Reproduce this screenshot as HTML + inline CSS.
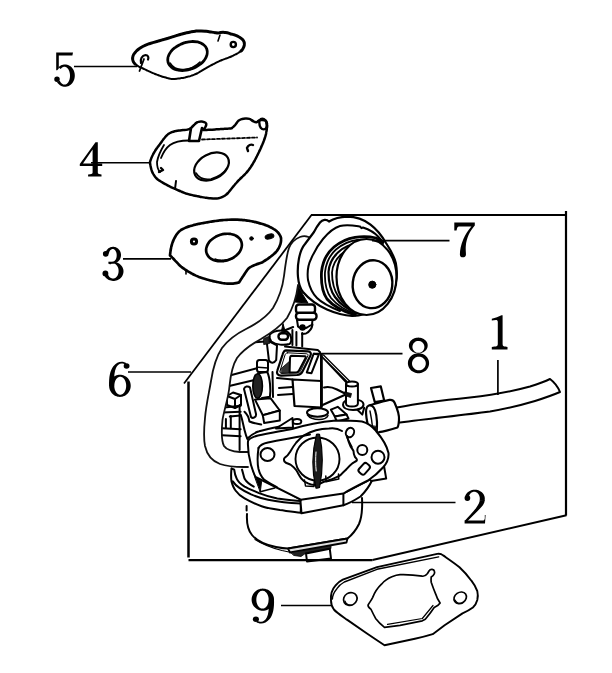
<!DOCTYPE html>
<html><head><meta charset="utf-8"><style>
html,body{margin:0;padding:0;background:#fff;width:612px;height:673px;overflow:hidden}
svg{display:block}
svg{font-family:"Liberation Serif",serif}
</style></head><body>
<svg width="612" height="673" viewBox="0 0 612 673">
<!-- gasket 5 -->
<g id="g5" fill="none" stroke="#000" stroke-linecap="round" stroke-linejoin="round">
<path stroke-width="3" stroke-dasharray="4 0.9" d="M135 64C132 61 132 57 134 54C137 49.5 142 46 150 43.5C158 41 166 39 172 37C180 34.5 188 32 197 31C205 30.5 212 32.5 218 33C222 32 226 32 231 34C236 35 240 37 243 40C245.5 43 244.5 48 241 51"/>
<path stroke-width="2" stroke-dasharray="2.5 1" d="M241 51C236 55 228 58 222 60C214 63.5 206 68 198 73C190 77 180 79 171 79C162 77 152 73 144 69C141 67.5 139 67 135 64"/>
<ellipse cx="187.5" cy="56" rx="20.5" ry="13.5" transform="rotate(-20 187.5 56)" stroke-width="2.8" stroke-dasharray="5 1"/>
<path stroke-width="1.6" d="M170 63C173 68 178 70 184 69.5C190 69 196 66 200 62"/>
<path stroke-width="2.2" d="M141 63C140 59 142 55.5 145.5 55C148 55 149 57.5 148 59.5"/>
<path stroke-width="1.8" d="M144 59L139.5 71"/>
<circle cx="233.3" cy="44.5" r="2.6" stroke-width="2.4"/>
<path stroke-width="1.6" d="M220 35L218 41"/>
</g>
<!-- gasket 4 -->
<g id="g4" fill="none" stroke="#000" stroke-linecap="round" stroke-linejoin="round">
<path stroke-width="2.5" stroke-dasharray="3 1.2" d="M150 162C152 155 156 149 160 144C163 140 166 135 170 133C174 131 179 130.5 184 130C188 130 190 129 192 127L196 123C199 121 203 121 206 123C207 125 205 128 203 130C210 130 220 129 231 128.5C234 127 236 124 238 121C241 118.5 246 118 250 119C253 121 255 123 257 122C259 120 263 119 266 121C268 124 267 128 266 134C264 142 260 150 256 158C252 166 247 173 241 178C236 183 232 188 228 193C224 197 219 199 213 198.5C205 198 195 196 186 193.5C177 190 168 186 160 181C155 178 152 173 151 168C150.5 166 150 164 150 162Z"/>
<path stroke-width="1.8" stroke-dasharray="3 2" d="M202 139.5L257 137.5"/>
<path stroke-width="1.8" d="M189 140.5C181 140.5 174 142 170 145C166 148 163 153 161 158"/>
<path stroke-width="1.8" d="M164 145C161 150 158 156 157 162C157 166 158 170 160 172"/>
<path stroke-width="2.6" d="M191 128L189 141L199 141L202 128"/>
<path stroke-width="2.4" d="M263 124m-3.5 0a3.5 4.5 -20 1 0 7 0a3.5 4.5 -20 1 0 -7 0"/>
<ellipse cx="211.5" cy="166.5" rx="18.5" ry="12.5" transform="rotate(-28 211.5 166.5)" stroke-width="2.2"/>
<path stroke-width="1.6" d="M196 173C199 178 205 180 211 179C218 177 224 173 227 168"/>
<path stroke-width="2.4" d="M247 148C248 145 251 144 253 145M247 148L248 151"/>
<path stroke-width="2" d="M176 181L175 189"/>
<path stroke-width="2.4" d="M159 172L163 170L161 168"/>
</g>
<!-- gasket 3 -->
<g id="g3" fill="none" stroke="#000" stroke-linecap="round" stroke-linejoin="round">
<path stroke-width="2.7" stroke-dasharray="3.2 1.1" d="M170 255.5C170.5 250 171.5 244 174 239C176 235 178 232 181 230C185 227.5 190 226 196 224.5C205 222.5 214 221 224 220C233 219.3 242 219.5 250 221C258 222.5 265 224.5 271 227.5C276 230 279.5 233 281 238C281.5 243 279.5 248 276 252C272 256 267 259.5 262 262.5C256 264.5 251 266 248 269C245 273 242 278 239 282.5C234 284 228 284 222 283C214 281.5 206 279.5 199 277C192 274 186 270.5 181 266.5C177 263 174 259 170 255.5Z"/>
<ellipse cx="224" cy="247.5" rx="18.3" ry="13.2" transform="rotate(-18 224 247.5)" stroke-width="2.7" stroke-dasharray="4 1"/>
<path stroke-width="1.6" stroke-dasharray="1.5 1" d="M215 259C220 261 228 260.5 234 258"/>
<circle cx="194" cy="241.5" r="2.6" stroke-width="3"/>
<circle cx="251.5" cy="238.5" r="1.8" fill="#000" stroke-width="1"/>
<ellipse cx="269.5" cy="236.5" rx="4.5" ry="2.4" fill="#000" stroke-width="1" transform="rotate(-15 269.5 236.5)"/>
<path stroke-width="1.6" d="M186 270L186 274"/>
</g>
<!-- gasket 9 -->
<g id="g9" fill="none" stroke="#000" stroke-linecap="round" stroke-linejoin="round">
<path stroke-width="1.9" d="M331 600.6C330.5 595 332 589.5 335.4 585.7C337.5 583 340 581 342.8 579.7L377 567.1L437.2 553.9C439.5 553.5 441.5 554 443.1 555.4C449 559.5 455 563.5 459.5 567.3C464 571.5 468 576 471.4 580.7C474 584 476 587.5 477.3 591.1C478 594 478 597 477.3 600C476.5 603 475 605.5 472.9 607.5C469.5 610 466 611.8 462.5 613.4L444.6 625.3L432.7 634.2C427 636 421 637.5 414.9 638.7L384.5 645.2C378 641 372 637 366.6 633.3L347.3 619.9C342.5 616.5 337 613 333.9 609.5C332 607 331 604 331 600.6Z"/>
<path stroke-width="1.4" d="M332.4 599C332.5 595 334.5 591.5 336.9 588.7C339 585.5 341.5 583.5 344.3 582L377 569.3L438.7 556.9"/>
<ellipse cx="350.3" cy="599" rx="7" ry="6.2" transform="rotate(-30 350.3 599)" stroke-width="1.7"/>
<path stroke-width="1.2" d="M345 601C346 604 349 605.5 352 605"/>
<ellipse cx="460.2" cy="597.8" rx="6.6" ry="5.4" transform="rotate(-35 460.2 597.8)" stroke-width="1.7"/>
<path stroke-width="1.2" d="M455 600C456.5 603 459.5 604 462.5 603"/>
<path stroke-width="1.7" d="M372.6 597.6C375 591.5 378 587.5 381.5 584.2C384.5 580.5 388 578.5 391.9 576.8C395 575.5 398 574.8 400 574.7C407 574.5 415 575 422.3 576.2C424.5 576.5 426 575.5 427.5 573.5L429 571C430.5 568.5 434 569 434.5 571.5C435 573.5 433.5 575.5 431.2 577C431 579 431 580.5 431.2 582.2C432.5 586 434 590 435.7 594.1C436.5 597 438 600 440.1 603C438.5 605.5 436 606.5 434.2 607.5C431.5 611.5 428.5 615.5 425.3 619.3L422.3 620.8L400 625.3L384.5 627.3C381 624.5 378 621.5 375.6 618.4C374 615.5 372.5 612.5 371.1 609.5C369.5 608 367.5 606.5 368.1 605C369.5 602.5 371.5 600 372.6 597.6Z"/>
<path stroke-width="1.2" d="M387.5 624.3L422.3 618.5L433 605.5"/>
</g>
<!-- hose 1 -->
<g id="h1" fill="none" stroke="#000" stroke-linecap="round" stroke-linejoin="round">
<path stroke-width="2" d="M397 407.5C420 403 445 400 470 397.5C492 395 512 391.5 530 386.5C538 384 545 381.5 550 379C554 382 558 387 560 392C553 395 546 397.5 535 401C520 405.5 505 409 490 411.5C460 415.5 430 418.5 400 422.5"/>
</g>
<!-- carb upper section -->
<g id="ctop" fill="none" stroke="#000" stroke-linecap="round" stroke-linejoin="round" stroke-width="2">
<!-- dark wedge under cap -->
<path fill="#000" stroke-width="1" d="M298.5 286L295 302L308 303L303 295Z"/>
<!-- springs / stem -->
<rect x="296" y="304.5" width="19" height="9" rx="3" fill="#fff" stroke-width="2.4"/>
<rect x="296" y="312.8" width="20.5" height="7" rx="3" fill="#fff" stroke-width="2.4"/>
<path d="M297 320L298 326.5C300 328.5 304 329 307 327.5L312 324.5L312.5 320"/>
<path d="M312.5 324.5C312 328 310.5 331 306 333.5L302 334"/>
<circle cx="302.5" cy="327.5" r="2.2" fill="#000"/>
<!-- dome with knob and spike -->
<path fill="#fff" d="M269.7 334.8C272 331.5 277 330.5 282 330.5C287 330.5 290 333 291 337.3C291.5 341 290.5 343.5 289.3 344C284 345.5 276 345 271.3 341.5C269.5 339.5 269.3 337 269.7 334.8Z"/>
<path fill="#000" stroke-width="1" d="M281.5 331L283 323.5L285 331Z"/>
<rect x="278.5" y="333.2" width="9.5" height="6.5" rx="3" fill="#fff" stroke-width="2.4"/>
<path d="M285 330.3L293.2 327"/>
<!-- column -->
<path fill="#fff" d="M266.5 340L277 345.4L276.2 360.1C274 364 270 363 268.9 360.1L266.5 340Z"/>
<path d="M255 342.2L268.9 341.3"/>
<path fill="#222" stroke-width="0.8" d="M263.8 338.5L268.5 336.5L269.5 343.5L264 344.5Z"/>
<!-- stems -->
<path d="M292.4 330V345M296.4 332V345.5M302.2 333V346.6"/>
<path d="M285 346.6L301.3 348.2L317.7 349.9L320.1 352.3"/>
<!-- small box (cap above roller) -->
<rect x="257" y="360" width="11" height="12" rx="2.5" fill="#fff"/>
<path stroke-width="1.5" d="M258 367.3L268 368"/>
<!-- bar from hose to roller -->
<path d="M226 376.5L256 368.5"/>
<path d="M225 387L254.5 380"/>
<!-- roller -->
<path fill="#fff" d="M258 373.3L267.3 372C270 378 271 390 269.9 396.8L262 398.1"/>
<ellipse cx="257.6" cy="386" rx="4.8" ry="12.3" fill="#222" stroke-width="1.6"/>
<path d="M272.5 372L273 397"/>
<!-- small nut lower-left -->
<path fill="#fff" d="M227 396L233 392.5L241 395L241 405L235 408L227 405Z"/>
<path d="M227 396L235 399L241 395M235 399V408"/>
<!-- lever -->
<path fill="#fff" stroke-width="2" d="M244 389C244.5 386.5 248 385.5 250 387.5L256 414C256.5 417 253 419 251 417Z"/>
<!-- block -->
<path fill="#fff" d="M255 399.6L270.7 398.3L279.8 410.5L262.8 415.3Z"/>
<path fill="#fff" d="M262.8 415.3L279.8 410.5L279.8 420.5L264.2 423.1Z"/>
<!-- left stack next to hose -->
<path d="M222 407.7L240.6 405.8M222 412.6L240.6 411.7M229.8 416.6L240.6 415.6M222 428.3L240.6 429.3M222 435.2L240.6 436.2"/>
<path d="M230.8 416L230.8 428.3M239.6 405L239.6 450M225.9 419V428"/>
<path d="M240.6 414.6C242 418 243 424 244.5 430C245.5 434 246.5 437 247.5 439"/>
<path d="M244.5 411.7C247 414 249 418 249.4 421.5C253 423 257 424 261.2 424.4"/>
<path d="M247.5 438.5C251 435 255 432.5 259.2 431.3C265 429.5 272 428 280 426.5"/>
<!-- big box -->
<path fill="#fff" stroke-width="2.2" d="M292.5 379.5L321.4 381L321.4 407.5L294.5 406Z"/>
<path d="M277 378L292.5 379.5"/>
<path d="M278 395L292.5 394M279 388L292.5 387"/>
<!-- triangle plate -->
<path stroke-width="2.8" d="M321.4 354.5L321.4 406"/>
<path stroke-width="1.3" d="M321.4 356L347 381.5M323.5 355L349.5 381M322.5 357.5L346.5 383"/>
<path d="M321.5 405.5L349 393"/>
<path d="M324 387.5C328 386.5 333 387.5 337 389.5C340 391 343 392.5 346 394"/>
<!-- post -->
<path fill="#fff" d="M343 404.5C343 401 347.5 399.5 353.5 399.5C359.5 399.5 363.5 401.5 363.5 404.5C363.5 407.8 359 410 353 410C347 410 343 407.8 343 404.5Z"/>
<path fill="#fff" d="M346 384V403.5C346 405.5 349 406.5 352 406.5C355 406.5 357.9 405.5 357.9 403.5V384"/>
<ellipse cx="352" cy="384" rx="5.9" ry="2.6" fill="#fff"/>
<path fill="#111" stroke-width="0.8" d="M344.5 392L351.5 393.5L350.5 397.5L345 395.5Z"/>
<path d="M357.4 409.7L362.3 414.6L364.2 407.7"/>
<!-- washers under big box -->
<ellipse cx="317.5" cy="412.5" rx="10.5" ry="4.2" fill="#fff"/>
<path stroke-width="1.5" d="M307.5 415C310 418.5 315 419.5 319 419.5C323 419.5 327 418 328 415.5"/>
<ellipse cx="297" cy="421.5" rx="4.3" ry="2.6"/>
<!-- wedge -->
<path fill="#fff" d="M276 428.5L292.5 418L293 427.5Z"/>
<!-- small blocks right -->
<path fill="#fff" d="M330.9 409.7L337.7 406.8L346.6 414.6L334.8 416.6Z"/>
<path fill="#fff" d="M334.8 416.6L346.6 414.6L348.5 418.5L336.8 421.5Z"/>
</g>
<!-- bracket 8 -->
<g id="br8" fill="none" stroke="#000" stroke-linecap="round" stroke-linejoin="round">
<path fill="#fff" stroke-width="2.2" d="M286 350.3L308 351.3C310.5 351.5 311.5 353.5 310.5 355.5L302.5 371.5C301.5 373.5 299.5 374.8 297 375L281 375.6C278 375.6 276.3 373.5 277.2 371L282.5 354.8C283.3 352 284.5 350.3 286 350.3Z"/>
<path stroke-width="1" d="M287.5 352.8L306.8 353.8C308 354 308.3 355 307.8 356L300.5 371C299.8 372.3 298.8 372.8 297.5 372.9L282 373.4C280.3 373.4 279.5 372.3 280 371L284.7 356C285.2 354 286 352.8 287.5 352.8Z"/>
<path fill="#333" stroke-width="0.8" d="M281.2 368.5L289.8 361L289.6 372.6L281.5 373Z"/>
<path fill="#fff" stroke-width="2" d="M291.6 355.7L304.8 356.3C305.8 356.4 306.1 357.2 305.6 358L298.6 371.2C298 372 297.3 372.4 296.3 372.4L289.6 372.5L290 358.5C290.1 356.5 290.6 355.7 291.6 355.7Z"/>
<path fill="#fff" stroke-width="2" d="M313.6 353.8L318.8 354.6L311.5 373.2L306.8 372.4Z"/>
</g>
<!-- fuel inlet fitting -->
<g id="fit" fill="none" stroke="#000" stroke-linecap="round" stroke-linejoin="round" stroke-width="2.2">
<path fill="#fff" d="M371 388L380.8 386.4L384.2 400.5L374.8 402.2Z"/>
<path fill="#fff" d="M370.3 405C374 404 382 401.5 389.4 399.9C392 399.5 393.5 400.5 394.5 402.5C397 408 399.5 414 399 420C398.7 424 398.5 426 397.5 427.5C391 429.5 384 431.5 379 432.2C376.5 432.8 375 433 373.5 432.5"/>
<path fill="#fff" d="M368.8 405.5C365.8 406.5 365.5 411 366.5 418C367.5 425 369.5 431 372.5 432.8C375.5 433.3 377.5 429 377 422C376.5 414 374.5 407 371.8 405.8C370.8 405.3 369.8 405.2 368.8 405.5Z"/>
<path fill="#111" stroke-width="0.8" d="M370.5 425.5L377.5 433.5L377.5 427Z"/>
<path stroke-width="1.4" d="M370 411C371 416 372 422 372.5 427"/>
</g>
<!-- hose 6 -->
<g id="h6" fill="none" stroke="#111" stroke-linecap="round" stroke-linejoin="round" stroke-width="1.8">
<path fill="#fff" stroke="none" d="M312.5 239.5C309 236.5 304 235.5 300 237C295 239 291 243 289 248C286.5 255 285.5 265 284 276C282.5 288 279 298 273 308C266 318 256 324 246 329C236 334 228 340 222 348C216 357 213 368 211 381C209 393 206 405 205 418C204 428 203.5 438 205 446C207 455 212 461 220 464C230 467.5 240 467 248 467L248 452L240 452C233 451.5 227 450.5 224 446C221 440 221.5 430 222.5 420C224 410 228.5 398 229.5 386C230.5 376 232 366 237 358C243 350 252 344 261 339C271 333 280 327 287 318C293 308 296.5 297 298 285Z"/>

<path d="M312.5 239.5C309 236.5 304 235.5 300 237C295 239 291 243 289 248C286.5 255 285.5 265 284 276C282.5 288 279 298 273 308C266 318 256 324 246 329C236 334 228 340 222 348C216 357 213 368 211 381C209 393 206 405 205 418C204 428 203.5 438 205 446C207 455 212 461 220 464C230 467.5 240 467 248 467"/>
<path d="M298 285C296.5 297 293 308 287 318C280 327 271 333 261 339C252 344 243 350 237 358C232 366 230.5 376 229.5 386C228.5 398 224 410 222.5 420C221.5 430 221 440 224 446C227 450.5 233 451.5 240 452L248 452"/>
</g>
<!-- carb body -->
<g id="carb" fill="none" stroke="#000" stroke-linecap="round" stroke-linejoin="round" stroke-width="2">
<!-- float bowl -->
<path stroke-width="2" d="M246.6 506V510.5"/>
<path fill="#fff" d="M247 514C246.5 522 248 530 252 535C257 541 266 545 276 547C281 548 285 548.5 288 548.5L347.5 538.5C352 535 356 530 359 524C362 517 362.5 508 362 498"/>
<path stroke-width="1.2" d="M255 539.5C262 544 272 548 282 550.5L289 552"/>
<path fill="#ddd" stroke-width="1.8" d="M288 548.5L347.5 538.5L346.5 542.5L290 552.5Z"/>
<path fill="#222" stroke-width="0.8" d="M291 552.5L331 545.8L331 548.5L306 553L301 556.5L294 555.5Z"/>
<path fill="#fff" stroke-width="2" d="M306 553.5L329.8 548.8L331 558.5L307 561.5Z"/>
<!-- bowl rim band -->
<path fill="#fff" d="M231.5 468.3C231 473 231 478 231.5 481.4C232.5 485 233.5 488 235.5 490.5C238 494 241 496.5 244.6 498.4C250 501.5 255 504 261.6 506.2C267 508 273 509 279.9 510.1C287 511 294 512 300.8 512.7L300.8 501C294 500.5 286 499.5 277.3 498.4C270 497 265 495.5 259 493.1C253 490.5 248 488.5 244.6 486.6C240.5 484 238 481.5 236.8 478.8C235.5 476 234.5 472.5 234.2 469.6Z"/>
<path d="M232.8 481.4C234.5 484 236.5 486 239.4 487.9C243 490.5 247 492.5 251.1 494.4C256 496.5 262 498.5 268.1 499.7C273 500.7 278 501.5 283.8 502.3C289 503 295 503.4 300.8 503.6"/>
<path d="M242 469.6C243 472.5 243.5 476 244.6 478.8C246.5 482 249.5 484.5 253.8 486.6"/>
<path d="M260.3 477.5L300.8 499.7"/>
<path fill="#000" stroke-width="1" d="M255.1 477.5L261.6 481.4L260.3 491.8Z"/>
<path stroke-width="1.6" d="M260.3 491.8L274.7 487.9"/>
<path d="M251.1 463C252.5 468 254 472.5 255.1 476.1M251.5 450C254 458 256 464 257.7 469.6C258.5 472.5 259.5 475 260.3 477.5"/>
<!-- front block under flange -->
<path fill="#fff" d="M300.5 501.5L301.5 513.3L343.4 505.3L343.4 493.5"/>
<path d="M343.4 505.3C349 503.5 355 500 360.5 496.5C365 492 369 487 372 480.5"/>
<path d="M343.4 493.5C351 489 360 484.5 368 480.5L375 475"/>
<path stroke-width="1.4" d="M346 491.5C354 487 362 483 370 477"/>
<!-- right tab under flange -->
<path fill="#fff" d="M366 476L384 466L386.2 478.6L371.2 481Z"/>
<!-- main flange (throttle body face) -->
<path fill="#fff" d="M248 441C247.5 450 249 458 251 465C252.5 470 254 474 255.5 477L300.8 499.7L343.4 493.5C351 489 360 484.5 368 480.5C374 476.5 379 472 383 467.5C387 463 389 459 388.5 453C387 446 382 438 376 431C372 426 368 423 362 421.5C352 420.5 343 420.5 336 420.5C320 422 305 425 292 429C282 431 270 433 258 435.5C252 437 249 439 248 441Z"/>
<path d="M258.5 448C257.5 455 257 462 258.5 469C259.5 473 261.5 477 264 479.5C268 482.5 272 484.5 276.6 487"/>
<path d="M258.5 448C260 445 263 443.5 268 442.5C280 440 295 437.5 310 434.5"/>
<!-- left mounting hole -->
<ellipse cx="267.5" cy="454.5" rx="7" ry="6.5"/>
<!-- bore -->
<path d="M347 436C348 440 349 443 350.3 445.8C351 447.5 352.5 449 353.5 451C353.5 453 354 455 355 457C356 458 357.5 459.5 356.8 460.5C355.5 462 353.5 462.5 351.9 463.7C349.5 465.5 347.5 468 345.4 470.3C343.5 472 342 473.5 340.5 475.2C338.5 476.5 336.5 477.3 334 478.4C331 479.8 327.5 480.5 324 481.7C321.5 482.5 319 485 316 485C313 485 310.5 484.5 307.8 483.3C305 482.5 303 480.8 301.2 478.4C299.5 476 298 473 296.3 470.3C295 468.3 293 466.5 291 465C289 463.7 287.5 463.5 285.5 462.5C283.5 461 283.5 458.5 285 457.5C287 456.5 288.5 454.5 289.8 452.3C291.5 449.5 293.5 446 296.3 442.5C298.5 440 301 437.5 304.5 435C308 433 311 431.5 316 430.2C320 429.3 324 428.8 329 428.6C333 428 338 428.5 342 431"/>
<ellipse cx="317.5" cy="459" rx="22" ry="21.5" stroke-width="1.9"/>
<path stroke-width="1.5" d="M304.5 480L305.5 486L314 486.5L314.3 480.5M325.8 476L326 481.7L338.8 479L338.5 474"/>
<!-- throttle plate -->
<path fill="#1a1a1a" stroke-width="1.2" d="M316.5 434.3C312.5 450 311.5 470 316 488.2C317.5 488.5 318.5 488 319.5 487.5C323 470 323 450 319.5 434.3C318.5 434 317.5 434 316.5 434.3Z"/>
<path stroke="#fff" stroke-width="1" d="M316 452C315.5 458 315.5 465 316.2 471"/>
<!-- bore top ear -->
<ellipse cx="350" cy="432.5" rx="4" ry="4.8" transform="rotate(25 350 432.5)"/>
<path stroke-width="1.6" d="M347 437.5L352 447"/>
<!-- right holes -->
<circle cx="362.3" cy="450" r="5"/>
<circle cx="378" cy="457.2" r="6.5"/>
<rect x="360.4" y="463" width="7.6" height="11.6" rx="2.5" transform="rotate(42 364.2 468.8)"/>

</g>
<!-- cap 7 -->
<g id="cap" fill="none" stroke="#000" stroke-linecap="round" stroke-linejoin="round">
<path fill="#fff" stroke-width="2.2" d="M298 277C297 266 299 251 305 244C308 240 311 236 314 232C316 228 318 225 320 222.5C322.5 219.5 326.5 219 329 221.5C334 218.5 340 216.8 347 216.6C356 216.6 364 219.5 370.5 224.6C377 229.5 382 236 386 243C390 249 394 256 395.8 263C397.5 272 397 282 393.5 289C389 298 383 304 375 309C368 313.5 360 316 352 315.8C344 315.5 335 313 327 309.5C318 305.5 309 299 303 292C300 288 298.5 283 298 277Z"/>
<path stroke-width="2" d="M340 311C330 307 322 303 317 298C312 293 309.5 287 308 280C307 272 308 265 311 259C314 252 318 245 323 239C328 233 333 228 340 226C347 224 354 225.5 360 226.5L361.5 228.2L363 227.5C369 229.5 374 232 378 236.5L383 242"/>
<path stroke-width="2.8" d="M355 315C345 312 333 306 327 299C322 292 321 282 321.5 272C322.5 262 327 253 334 247C340 242 347 238.5 355 237.3C363 236 370 236.5 376 238L383 242"/>
<path stroke-width="1.8" d="M356 314C347 311 337 305 331 298C326 291 324.5 282 325 272C326 263 330 255 336 249.5C342 244.5 349 241 357 240C365 239 372 239.5 383 242"/>
<path stroke-width="2.2" d="M357 313C349 310 340 304 335 297C330 290 328.5 281 328.5 272C329 264 333 257 338.5 252C344 247 351 244 358 243C366 242 374 242 383 242.5"/>
<path stroke-width="1.8" d="M358 313C351 309.5 343 304 338.5 297C334 290 332 281 332 272.5C332.5 265 336 259 341 254.5C346 250 353 247.5 360 246.5C368 245.5 376 245 383 244"/>
<ellipse cx="366.5" cy="277" rx="30" ry="38" fill="#fff" stroke-width="2.2"/>
<ellipse cx="372.5" cy="284.2" rx="19.8" ry="24" transform="rotate(6 372.5 284.2)" stroke-width="2.4"/>
<circle cx="372.3" cy="284.7" r="3.6" fill="#000" stroke-width="1"/>
</g>
<g id="digits" fill="#000" fill-rule="evenodd">
<g transform="translate(54.20 52.40) scale(1.000 1.000)"><path d="M2 0.2L18.8 0.2L18.2 3.0L4.6 3.0L4.6 16.2L3 17.9L2 17.9Z"/><path d="M4.24 14.88 L5.04 14.14 L5.91 13.50 L6.82 12.96 L7.79 12.54 L8.78 12.24 L9.80 12.06 L10.83 12.00 L11.85 12.06 L12.87 12.25 L13.86 12.56 L14.82 12.99 L15.74 13.53 L16.60 14.17 L17.40 14.92 L18.12 15.75 L18.76 16.67 L19.32 17.66 L19.78 18.71 L20.14 19.82 L20.40 20.95 L20.55 22.12 L20.60 23.29 L20.54 24.47 L20.37 25.63 L20.09 26.76 L19.71 27.86 L19.24 28.90 L18.67 29.88 L18.01 30.79 L17.27 31.61 L16.47 32.34 L15.60 32.97 L14.67 33.49 L13.71 33.90 L12.71 34.19 L11.69 34.35 L10.66 34.40 L9.64 34.32 L8.62 34.12 L7.63 33.80 L6.68 33.36 L5.77 32.81 L4.91 32.15 L4.12 31.40 L3.41 30.55 L2.77 29.62 L5.61 28.40 L5.98 29.14 L6.38 29.81 L6.83 30.41 L7.32 30.94 L7.84 31.37 L8.39 31.72 L8.95 31.98 L9.53 32.14 L10.12 32.20 L10.71 32.16 L11.29 32.03 L11.86 31.80 L12.41 31.48 L12.94 31.06 L13.44 30.56 L13.90 29.98 L14.32 29.33 L14.70 28.61 L15.02 27.83 L15.29 27.00 L15.51 26.13 L15.67 25.23 L15.76 24.31 L15.80 23.37 L15.77 22.44 L15.69 21.52 L15.54 20.61 L15.33 19.74 L15.07 18.90 L14.75 18.11 L14.38 17.38 L13.97 16.72 L13.51 16.13 L13.02 15.61 L12.50 15.18 L11.95 14.85 L11.38 14.60 L10.80 14.45 L10.21 14.40 L9.63 14.45 L9.05 14.59 L8.48 14.83 L7.93 15.17 L7.40 15.59 L6.91 16.10 L6.45 16.69Z"/><path d="M0.05 26.90a2.75 2.75 0 1 0 5.50 0a2.75 2.75 0 1 0 -5.50 0Z"/></g>
<g transform="translate(79.80 142.20) scale(1.000 1.000)"><path d="M15.7 0L18 0L18 21.3L22.4 21.3L22.4 23.8L18 23.8L18 30.4C18 31.4 18.8 31.9 20.3 32.1L21.7 32.3L21.7 34.4L8.3 34.4L8.3 32.3L10.4 32.1C11.9 31.9 12.8 31.4 12.8 30.4L12.8 23.8L0 23.8L0 21.7ZM12.8 7.2L3.2 21.3L12.8 21.3Z"/></g>
<g transform="translate(102.80 246.80) scale(1.000 1.000)"><path d="M2.67 6.15 L2.93 5.32 L3.27 4.51 L3.69 3.75 L4.19 3.04 L4.75 2.39 L5.37 1.81 L6.06 1.30 L6.78 0.87 L7.55 0.52 L8.35 0.26 L9.17 0.09 L10.00 0.01 L10.84 0.02 L11.67 0.13 L12.49 0.32 L13.28 0.61 L14.03 0.99 L14.75 1.44 L15.42 1.98 L16.02 2.58 L16.57 3.25 L17.04 3.97 L17.44 4.75 L17.76 5.56 L17.99 6.40 L18.14 7.27 L18.20 8.14 L18.17 9.02 L18.05 9.89 L17.85 10.75 L17.56 11.57 L17.19 12.36 L16.74 13.10 L16.22 13.79 L15.64 14.42 L14.99 14.98 L14.29 15.46 L13.55 15.87 L12.77 16.18 L11.96 16.41 L11.14 16.55 L10.30 16.60 L9.90 14.80 L10.32 14.76 L10.74 14.66 L11.15 14.48 L11.55 14.24 L11.92 13.94 L12.28 13.57 L12.60 13.14 L12.90 12.67 L13.16 12.15 L13.39 11.58 L13.58 10.98 L13.72 10.36 L13.83 9.71 L13.88 9.05 L13.90 8.38 L13.87 7.72 L13.79 7.06 L13.68 6.42 L13.51 5.80 L13.31 5.21 L13.07 4.66 L12.80 4.16 L12.49 3.70 L12.15 3.29 L11.79 2.95 L11.41 2.66 L11.01 2.45 L10.59 2.30 L10.17 2.21 L9.75 2.20 L9.33 2.26 L8.91 2.39 L8.51 2.59 L8.12 2.86 L7.75 3.19 L7.41 3.57 L7.09 4.02 L6.80 4.51 L6.55 5.05 L6.34 5.63 L6.17 6.23 L6.04 6.87Z"/><path d="M0.10 7.00a2.85 2.85 0 1 0 5.70 0a2.85 2.85 0 1 0 -5.70 0Z"/><path d="M5.6 14.9L10.4 14.9L10.4 16.7L5.6 16.7Z"/><path d="M5.55 16.37 L6.50 15.92 L7.50 15.56 L8.53 15.30 L9.59 15.15 L10.66 15.10 L11.72 15.16 L12.78 15.32 L13.81 15.59 L14.80 15.96 L15.75 16.43 L16.64 16.98 L17.46 17.63 L18.20 18.35 L18.86 19.14 L19.43 19.99 L19.90 20.89 L20.26 21.84 L20.52 22.81 L20.66 23.81 L20.70 24.81 L20.62 25.81 L20.42 26.80 L20.12 27.77 L19.71 28.69 L19.20 29.58 L18.60 30.40 L17.90 31.17 L17.12 31.85 L16.27 32.46 L15.35 32.98 L14.39 33.41 L13.38 33.73 L12.34 33.96 L11.27 34.08 L10.21 34.09 L9.14 34.00 L8.09 33.80 L7.08 33.50 L6.10 33.10 L5.17 32.61 L4.30 32.02 L3.50 31.35 L2.78 30.61 L2.15 29.80 L1.61 28.93 L1.17 28.01 L0.84 27.06 L4.79 26.17 L4.97 26.93 L5.22 27.67 L5.51 28.36 L5.86 29.01 L6.26 29.60 L6.70 30.14 L7.19 30.61 L7.70 31.00 L8.25 31.32 L8.81 31.56 L9.39 31.72 L9.98 31.79 L10.57 31.78 L11.16 31.69 L11.74 31.51 L12.30 31.25 L12.84 30.91 L13.34 30.49 L13.82 30.00 L14.25 29.45 L14.63 28.84 L14.97 28.18 L15.25 27.48 L15.48 26.73 L15.65 25.96 L15.75 25.17 L15.80 24.37 L15.78 23.57 L15.70 22.77 L15.56 21.99 L15.36 21.23 L15.10 20.51 L14.78 19.83 L14.42 19.20 L14.00 18.62 L13.55 18.11 L13.05 17.66 L12.53 17.29 L11.98 16.99 L11.41 16.78 L10.82 16.65 L10.23 16.60 L9.64 16.64 L9.05 16.76 L8.48 16.97 L7.93 17.25 L7.40 17.62Z"/><path d="M-0.35 26.60a2.95 2.95 0 1 0 5.90 0a2.95 2.95 0 1 0 -5.90 0Z"/></g>
<g transform="translate(109.10 361.50) scale(1.060 1.000)"><path d="M20.40 24.30 L20.34 25.46 L20.18 26.61 L19.90 27.73 L19.52 28.81 L19.03 29.85 L18.45 30.82 L17.78 31.73 L17.03 32.55 L16.20 33.28 L15.30 33.91 L14.35 34.44 L13.35 34.86 L12.32 35.16 L11.27 35.34 L10.20 35.40 L9.13 35.34 L8.08 35.16 L7.05 34.86 L6.05 34.44 L5.10 33.91 L4.20 33.28 L3.37 32.55 L2.62 31.73 L1.95 30.82 L1.37 29.85 L0.88 28.81 L0.50 27.73 L0.22 26.61 L0.06 25.46 L0.00 24.30 L0.06 23.14 L0.22 21.99 L0.50 20.87 L0.88 19.79 L1.37 18.75 L1.95 17.78 L2.62 16.87 L3.37 16.05 L4.20 15.32 L5.10 14.69 L6.05 14.16 L7.05 13.74 L8.08 13.44 L9.13 13.26 L10.20 13.20 L11.27 13.26 L12.32 13.44 L13.35 13.74 L14.35 14.16 L15.30 14.69 L16.20 15.32 L17.03 16.05 L17.78 16.87 L18.45 17.78 L19.03 18.75 L19.52 19.79 L19.90 20.87 L20.18 21.99 L20.34 23.14ZM16.07 23.36 L15.98 22.43 L15.83 21.52 L15.62 20.64 L15.35 19.80 L15.03 19.01 L14.66 18.28 L14.25 17.61 L13.79 17.02 L13.30 16.51 L12.78 16.08 L12.23 15.74 L11.66 15.50 L11.09 15.35 L10.50 15.30 L9.91 15.35 L9.34 15.50 L8.77 15.74 L8.22 16.08 L7.70 16.51 L7.21 17.02 L6.75 17.61 L6.34 18.28 L5.97 19.01 L5.65 19.80 L5.38 20.64 L5.17 21.52 L5.02 22.43 L4.93 23.36 L4.90 24.30 L4.93 25.24 L5.02 26.17 L5.17 27.08 L5.38 27.96 L5.65 28.80 L5.97 29.59 L6.34 30.32 L6.75 30.99 L7.21 31.58 L7.70 32.09 L8.22 32.52 L8.77 32.86 L9.34 33.10 L9.91 33.25 L10.50 33.30 L11.09 33.25 L11.66 33.10 L12.23 32.86 L12.78 32.52 L13.30 32.09 L13.79 31.58 L14.25 30.99 L14.66 30.32 L15.03 29.59 L15.35 28.80 L15.62 27.96 L15.83 27.08 L15.98 26.17 L16.07 25.24 L16.10 24.30Z"/><path d="M0.05 24.5C-0.3 16 0.9 9 4 4.8C6.5 1.6 9 0.3 11.8 0.3C13.6 0.3 15 0.8 16.2 1.8L15.2 3.2C14.2 2.4 13.1 2.1 11.8 2.1C9.6 2.1 7.8 3.6 6.5 6.6C5.1 9.9 4.7 14.5 4.7 20L4.7 24.5Z"/><path d="M13.75 4.60a2.75 2.75 0 1 0 5.50 0a2.75 2.75 0 1 0 -5.50 0Z"/></g>
<g transform="translate(454.30 222.60) scale(1.000 1.000)"><path d="M0 0L20.5 0L20.5 3C15.5 8.5 12.2 15.5 11.5 23.5C11.2 27.5 11.8 30.5 11.6 32.3C11.4 34 10.2 34.6 8.6 34.6C6.8 34.6 5.6 33.8 5.6 31.8C5.6 27.3 6.6 22.3 9.1 16.3C11.1 11.8 14.1 7.5 17.1 3.9L4.6 3.9C3.4 3.9 2.9 4.9 2.6 6.4L2.2 8L0 8Z"/></g>
<g transform="translate(407.60 337.60) scale(1.000 1.000)"><path d="M20.10 7.90 L20.05 8.73 L19.89 9.54 L19.64 10.34 L19.29 11.11 L18.84 11.85 L18.30 12.54 L17.69 13.19 L16.99 13.77 L16.23 14.29 L15.40 14.74 L14.52 15.12 L13.60 15.41 L12.65 15.63 L11.68 15.76 L10.70 15.80 L9.72 15.76 L8.75 15.63 L7.80 15.41 L6.88 15.12 L6.00 14.74 L5.17 14.29 L4.41 13.77 L3.71 13.19 L3.10 12.54 L2.56 11.85 L2.11 11.11 L1.76 10.34 L1.51 9.54 L1.35 8.73 L1.30 7.90 L1.35 7.07 L1.51 6.26 L1.76 5.46 L2.11 4.69 L2.56 3.95 L3.10 3.26 L3.71 2.61 L4.41 2.03 L5.17 1.51 L6.00 1.06 L6.88 0.68 L7.80 0.39 L8.75 0.17 L9.72 0.04 L10.70 0.00 L11.68 0.04 L12.65 0.17 L13.60 0.39 L14.52 0.68 L15.40 1.06 L16.23 1.51 L16.99 2.03 L17.69 2.61 L18.30 3.26 L18.84 3.95 L19.29 4.69 L19.64 5.46 L19.89 6.26 L20.05 7.07ZM16.34 11.50 L16.54 10.91 L16.68 10.30 L16.75 9.68 L16.76 9.06 L16.70 8.44 L16.58 7.83 L16.39 7.23 L16.14 6.66 L15.84 6.11 L15.48 5.60 L15.07 5.13 L14.61 4.71 L14.11 4.34 L13.57 4.02 L13.00 3.76 L12.41 3.56 L11.80 3.42 L11.18 3.35 L10.56 3.34 L9.94 3.40 L9.33 3.52 L8.73 3.71 L8.16 3.96 L7.61 4.26 L7.10 4.62 L6.63 5.03 L6.21 5.49 L5.84 5.99 L5.52 6.53 L5.26 7.10 L5.06 7.69 L4.92 8.30 L4.85 8.92 L4.84 9.54 L4.90 10.16 L5.02 10.77 L5.21 11.37 L5.46 11.94 L5.76 12.49 L6.12 13.00 L6.53 13.47 L6.99 13.89 L7.49 14.26 L8.03 14.58 L8.60 14.84 L9.19 15.04 L9.80 15.18 L10.42 15.25 L11.04 15.26 L11.66 15.20 L12.27 15.08 L12.87 14.89 L13.44 14.64 L13.99 14.34 L14.50 13.98 L14.97 13.57 L15.39 13.11 L15.76 12.61 L16.08 12.07Z"/><path d="M21.50 25.60 L21.44 26.65 L21.27 27.68 L20.98 28.69 L20.58 29.67 L20.08 30.60 L19.48 31.48 L18.78 32.29 L17.99 33.03 L17.13 33.69 L16.20 34.26 L15.21 34.74 L14.18 35.11 L13.10 35.38 L12.01 35.55 L10.90 35.60 L9.79 35.55 L8.70 35.38 L7.62 35.11 L6.59 34.74 L5.60 34.26 L4.67 33.69 L3.81 33.03 L3.02 32.29 L2.32 31.48 L1.72 30.60 L1.22 29.67 L0.82 28.69 L0.53 27.68 L0.36 26.65 L0.30 25.60 L0.36 24.55 L0.53 23.52 L0.82 22.51 L1.22 21.53 L1.72 20.60 L2.32 19.72 L3.02 18.91 L3.81 18.17 L4.67 17.51 L5.60 16.94 L6.59 16.46 L7.62 16.09 L8.70 15.82 L9.79 15.65 L10.90 15.60 L12.01 15.65 L13.10 15.82 L14.18 16.09 L15.21 16.46 L16.20 16.94 L17.13 17.51 L17.99 18.17 L18.78 18.91 L19.48 19.72 L20.08 20.60 L20.58 21.53 L20.98 22.51 L21.27 23.52 L21.44 24.55ZM16.42 30.48 L16.87 29.92 L17.26 29.31 L17.58 28.67 L17.84 28.00 L18.02 27.31 L18.13 26.60 L18.17 25.88 L18.13 25.16 L18.01 24.45 L17.82 23.76 L17.56 23.09 L17.24 22.45 L16.84 21.85 L16.39 21.29 L15.88 20.78 L15.32 20.33 L14.71 19.94 L14.07 19.62 L13.40 19.36 L12.71 19.18 L12.00 19.07 L11.28 19.03 L10.56 19.07 L9.85 19.19 L9.16 19.38 L8.49 19.64 L7.85 19.96 L7.25 20.36 L6.69 20.81 L6.18 21.32 L5.73 21.88 L5.34 22.49 L5.02 23.13 L4.76 23.80 L4.58 24.49 L4.47 25.20 L4.43 25.92 L4.47 26.64 L4.59 27.35 L4.78 28.04 L5.04 28.71 L5.36 29.35 L5.76 29.95 L6.21 30.51 L6.72 31.02 L7.28 31.47 L7.89 31.86 L8.53 32.18 L9.20 32.44 L9.89 32.62 L10.60 32.73 L11.32 32.77 L12.04 32.73 L12.75 32.61 L13.44 32.42 L14.11 32.16 L14.75 31.84 L15.35 31.44 L15.91 30.99Z"/></g>
<g transform="translate(491.80 315.30) scale(1.000 1.000)"><path d="M10.8 0L10.8 28.6C10.8 30.4 11.7 31.1 13.7 31.3L15.7 31.6L15.7 34.2L0 34.2L0 31.6L2.7 31.3C5 31.1 6 30.4 6 28.6L6 6.7C6 5.2 5.2 4.7 4.2 4.7L0 5.3L0 3.5C3.7 2.7 6.7 1.5 9.7 0Z"/></g>
<g transform="translate(464.40 489.70) scale(1.000 1.000)"><path d="M0.74 6.67 L1.06 5.77 L1.49 4.91 L2.01 4.10 L2.63 3.34 L3.33 2.64 L4.11 2.01 L4.95 1.45 L5.86 0.98 L6.82 0.60 L7.81 0.31 L8.84 0.11 L9.88 0.01 L10.92 0.01 L11.96 0.11 L12.99 0.31 L13.98 0.60 L14.94 0.98 L15.85 1.45 L16.69 2.01 L17.47 2.64 L18.17 3.34 L18.79 4.10 L19.31 4.91 L19.74 5.77 L20.06 6.67 L20.28 7.59 L20.39 8.53 L20.39 9.47 L20.28 10.41 L20.06 11.33 L15.21 10.81 L15.33 10.10 L15.39 9.37 L15.39 8.63 L15.33 7.90 L15.21 7.19 L15.03 6.49 L14.79 5.82 L14.50 5.19 L14.15 4.59 L13.76 4.05 L13.32 3.56 L12.85 3.13 L12.34 2.76 L11.81 2.46 L11.25 2.24 L10.68 2.09 L10.09 2.01 L9.51 2.01 L8.92 2.09 L8.35 2.24 L7.79 2.46 L7.26 2.76 L6.75 3.13 L6.28 3.56 L5.84 4.05 L5.45 4.59 L5.10 5.19 L4.81 5.82 L4.57 6.49 L4.39 7.19Z"/><path d="M0.15 8.40a2.85 2.85 0 1 0 5.70 0a2.85 2.85 0 1 0 -5.70 0Z"/><path d="M20.4 10.5C20.2 14.5 17 17.5 13 21.5L3.2 31.2L0.2 31.2C4 27 8.5 22.5 11.5 18.5C14 15 15.2 12.5 15.4 10.5Z"/><path d="M0.2 30.7L19 30.7C19.8 30.7 20.2 29.8 20.4 28.5L20.4 25.2L21.2 25.2L20.6 33.9L0.2 33.9Z"/></g>
<g transform="translate(274.04 623.82) rotate(180) scale(1.100 0.995)"><path d="M20.40 24.30 L20.34 25.46 L20.18 26.61 L19.90 27.73 L19.52 28.81 L19.03 29.85 L18.45 30.82 L17.78 31.73 L17.03 32.55 L16.20 33.28 L15.30 33.91 L14.35 34.44 L13.35 34.86 L12.32 35.16 L11.27 35.34 L10.20 35.40 L9.13 35.34 L8.08 35.16 L7.05 34.86 L6.05 34.44 L5.10 33.91 L4.20 33.28 L3.37 32.55 L2.62 31.73 L1.95 30.82 L1.37 29.85 L0.88 28.81 L0.50 27.73 L0.22 26.61 L0.06 25.46 L0.00 24.30 L0.06 23.14 L0.22 21.99 L0.50 20.87 L0.88 19.79 L1.37 18.75 L1.95 17.78 L2.62 16.87 L3.37 16.05 L4.20 15.32 L5.10 14.69 L6.05 14.16 L7.05 13.74 L8.08 13.44 L9.13 13.26 L10.20 13.20 L11.27 13.26 L12.32 13.44 L13.35 13.74 L14.35 14.16 L15.30 14.69 L16.20 15.32 L17.03 16.05 L17.78 16.87 L18.45 17.78 L19.03 18.75 L19.52 19.79 L19.90 20.87 L20.18 21.99 L20.34 23.14ZM16.07 23.36 L15.98 22.43 L15.83 21.52 L15.62 20.64 L15.35 19.80 L15.03 19.01 L14.66 18.28 L14.25 17.61 L13.79 17.02 L13.30 16.51 L12.78 16.08 L12.23 15.74 L11.66 15.50 L11.09 15.35 L10.50 15.30 L9.91 15.35 L9.34 15.50 L8.77 15.74 L8.22 16.08 L7.70 16.51 L7.21 17.02 L6.75 17.61 L6.34 18.28 L5.97 19.01 L5.65 19.80 L5.38 20.64 L5.17 21.52 L5.02 22.43 L4.93 23.36 L4.90 24.30 L4.93 25.24 L5.02 26.17 L5.17 27.08 L5.38 27.96 L5.65 28.80 L5.97 29.59 L6.34 30.32 L6.75 30.99 L7.21 31.58 L7.70 32.09 L8.22 32.52 L8.77 32.86 L9.34 33.10 L9.91 33.25 L10.50 33.30 L11.09 33.25 L11.66 33.10 L12.23 32.86 L12.78 32.52 L13.30 32.09 L13.79 31.58 L14.25 30.99 L14.66 30.32 L15.03 29.59 L15.35 28.80 L15.62 27.96 L15.83 27.08 L15.98 26.17 L16.07 25.24 L16.10 24.30Z"/><path d="M0.05 24.5C-0.3 16 0.9 9 4 4.8C6.5 1.6 9 0.3 11.8 0.3C13.6 0.3 15 0.8 16.2 1.8L15.2 3.2C14.2 2.4 13.1 2.1 11.8 2.1C9.6 2.1 7.8 3.6 6.5 6.6C5.1 9.9 4.7 14.5 4.7 20L4.7 24.5Z"/><path d="M13.75 4.60a2.75 2.75 0 1 0 5.50 0a2.75 2.75 0 1 0 -5.50 0Z"/></g>
</g>
<g id="leaders" stroke="#000" stroke-width="1.6" fill="none">
<path d="M74 66.5H137"/>
<path d="M91 162.7H150"/>
<path d="M123 258.9H171"/>
<path d="M128 372H191"/>
<path d="M372 240.6H449.5"/>
<path d="M313.5 353.6H402.5"/>
<path stroke-width="1.7" d="M497.9 360V395"/>
<path d="M352 502.5H455.5"/>
<path d="M281 605.45H331.5"/>
</g>
<g id="frame" stroke="#000" stroke-width="2" fill="none">
<path stroke-width="1.8" d="M184 383.5L311.5 215"/>
<path d="M311 215H566"/>
<path stroke-width="2.2" d="M566 211V515.4"/>
<path stroke-width="1.9" d="M566.5 515.2L372.5 560"/>
<path stroke-width="2.3" d="M372.5 560.2H188.5"/>
<path stroke-width="2.5" d="M188.5 557.5V381.5"/>
</g>
</svg>
</body></html>
